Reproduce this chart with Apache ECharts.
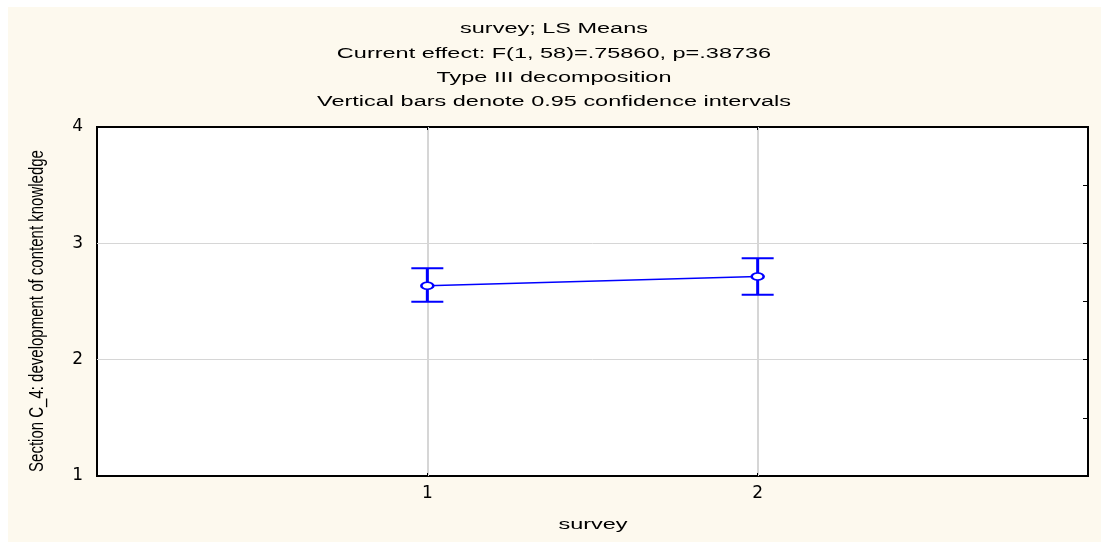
<!DOCTYPE html>
<html>
<head>
<meta charset="utf-8">
<script src="https://cdn.jsdelivr.net/npm/echarts@6/dist/echarts.min.js"></script>
<style>
  html, body { margin: 0; padding: 0; background: #ffffff; }
  #wrap { position: relative; width: 1101px; height: 542px; overflow: hidden; }
  #bg { position: absolute; left: 8px; top: 7px; right: 0; bottom: 0; background: #FDF9EE; }
  #chart { position: absolute; left: 0; top: 0; width: 1101px; height: 542px; }
</style>
</head>
<body>
<div id="wrap"><div id="bg"></div><div id="chart"></div></div>
<script>
// ---- data ----
const surveyLevels = [1, 2];
const lsMeans = [2.635, 2.715];
const ciLower = [2.497, 2.557];
const ciUpper = [2.786, 2.872];
const yTicks = [1, 2, 3, 4];
const titleLines = [
  'survey; LS Means',
  'Current effect: F(1, 58)=.75860, p=.38736',
  'Type III decomposition',
  'Vertical bars denote 0.95 confidence intervals'
];
const xAxisTitle = 'survey';
const yAxisTitle = 'Section C_4: development of content knowledge';

const blue = '#0000FF';
const fontFam = '"Liberation Sans", Arial, sans-serif';
const tickFont = '"DejaVu Sans", "Liberation Sans", Arial, sans-serif';

const meanData = surveyLevels.map((x, i) => [x, lsMeans[i]]);
const ciData = surveyLevels.map((x, i) => [x, ciLower[i], ciUpper[i]]);

const titleY = [29, 54, 78, 102];
const graphics = titleLines.map((t, i) => ({
  type: 'text',
  x: 554, y: titleY[i],
  scaleX: 1.515,
  silent: true,
  style: { text: t, x: 0, y: 0, align: 'center', verticalAlign: 'middle',
           font: '15.5px ' + fontFam, fill: '#000' }
}));
graphics.push({
  type: 'text', x: 593, y: 525, scaleX: 1.515, silent: true,
  style: { text: xAxisTitle, x: 0, y: 0, align: 'center', verticalAlign: 'middle',
           font: '15.5px ' + fontFam, fill: '#000' }
});
graphics.push({
  type: 'text', x: 38, y: 311, rotation: Math.PI / 2, scaleY: 1.3, silent: true,
  style: { text: yAxisTitle, x: 0, y: 0, align: 'center', verticalAlign: 'middle',
           font: '15px ' + fontFam, fill: '#000' }
});

const chart = echarts.init(document.getElementById('chart'), null, { renderer: 'canvas' });
chart.setOption({
  backgroundColor: 'transparent',
  animation: false,
  graphic: graphics,
  grid: {
    left: 97, right: 13, top: 127, bottom: 66,
    show: true, backgroundColor: '#ffffff', borderColor: '#000', borderWidth: 2
  },
  xAxis: [
    {
      type: 'value', position: 'bottom', min: 0, max: 3, interval: 1,
      axisLine: { show: false, onZero: false },
      axisTick: { show: true, inside: true, length: 3, lineStyle: { color: '#000', width: 1 } },
      axisLabel: {
        margin: 9, color: '#000', fontSize: 17, fontFamily: tickFont,
        formatter: v => (surveyLevels.indexOf(v) >= 0 ? String(v) : '')
      },
      splitLine: { show: true, showMinLine: false, showMaxLine: false,
                   lineStyle: { color: '#d6d6d6', width: 2 } }
    },
    {
      type: 'value', position: 'top', min: 0, max: 3, interval: 1,
      axisLine: { show: false, onZero: false },
      axisTick: { show: true, inside: true, length: 3, lineStyle: { color: '#000', width: 1 } },
      axisLabel: { show: false },
      splitLine: { show: false }
    }
  ],
  yAxis: [
    {
      type: 'value', position: 'left', min: 1, max: 4, interval: 1,
      axisLine: { show: false, onZero: false },
      axisTick: { show: false },
      axisLabel: {
        margin: 14, color: '#000', fontSize: 17, fontFamily: tickFont,
        formatter: v => (yTicks.indexOf(v) >= 0 ? String(v) : '')
      },
      splitLine: { show: true, showMinLine: false, showMaxLine: false,
                   lineStyle: { color: '#d6d6d6', width: 1 } }
    },
    {
      type: 'value', position: 'right', min: 1, max: 4, interval: 0.5,
      axisLine: { show: false, onZero: false },
      axisTick: { show: true, inside: true, length: 5, lineStyle: { color: '#000', width: 1 } },
      axisLabel: { show: false },
      splitLine: { show: false }
    }
  ],
  series: [
    {
      type: 'custom',
      xAxisIndex: 0, yAxisIndex: 0,
      data: ciData,
      z: 3,
      renderItem: function (params, api) {
        const x = api.value(0);
        const lo = api.coord([x, api.value(1)]);
        const hi = api.coord([x, api.value(2)]);
        const hw = 16;
        return {
          type: 'group',
          children: [
            { type: 'line', shape: { x1: lo[0], y1: lo[1], x2: hi[0], y2: hi[1] },
              style: { stroke: blue, lineWidth: 3 } },
            { type: 'line', shape: { x1: hi[0] - hw, y1: hi[1], x2: hi[0] + hw, y2: hi[1] },
              style: { stroke: blue, lineWidth: 2 } },
            { type: 'line', shape: { x1: lo[0] - hw, y1: lo[1], x2: lo[0] + hw, y2: lo[1] },
              style: { stroke: blue, lineWidth: 2 } }
          ]
        };
      }
    },
    {
      type: 'line',
      xAxisIndex: 0, yAxisIndex: 0,
      data: meanData,
      z: 4,
      symbol: 'circle',
      symbolSize: [12, 7],
      lineStyle: { color: blue, width: 1.5 },
      itemStyle: { color: '#ffffff', borderColor: blue, borderWidth: 2 }
    }
  ]
});
</script>
</body>
</html>
